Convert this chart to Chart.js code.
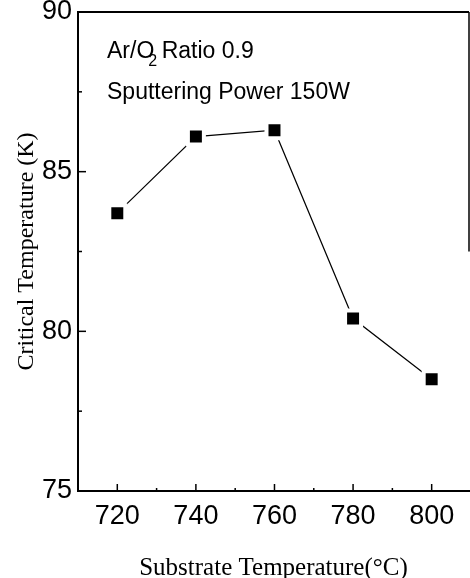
<!DOCTYPE html>
<html><head><meta charset="utf-8">
<script src="https://cdn.jsdelivr.net/npm/chart.js@4/dist/chart.umd.min.js"></script>
<style>html,body{margin:0;padding:0;background:#fff;overflow:hidden}canvas{display:block}</style>
</head><body><canvas id="c" width="470" height="578"></canvas>
<script>
const substrateTemps = [720, 740, 760, 780, 800];
const criticalTemps = [83.7, 86.1, 86.3, 80.4, 78.5];
const xTickValues = [720, 740, 760, 780, 800];
const xMinorTicks = [730, 750, 770, 790];
const yTickValues = [75, 80, 85, 90];
const yMinorTicks = [77.5, 82.5, 87.5];
const xTitle = 'Substrate Temperature(°C)';
const yTitle = 'Critical Temperature (K)';

const sans = '"Liberation Sans", Arial, Helvetica, sans-serif';
const serif = '"Liberation Serif", "Times New Roman", serif';

const framePlugin = {
  id: 'frame',
  afterDraw(chart) {
    const {ctx, chartArea: a, scales: {x, y}} = chart;
    ctx.save();
    ctx.strokeStyle = '#000';
    ctx.lineCap = 'butt';
    ctx.lineWidth = 2;
    ctx.beginPath(); ctx.moveTo(a.left - 1, a.top); ctx.lineTo(a.right, a.top); ctx.stroke();
    ctx.lineWidth = 1.5;
    ctx.beginPath(); ctx.moveTo(a.right, a.top); ctx.lineTo(a.right, y.getPixelForValue(82.5)); ctx.stroke();
    const tick = (x1, y1, x2, y2) => { ctx.beginPath(); ctx.moveTo(x1, y1); ctx.lineTo(x2, y2); ctx.stroke(); };
    ctx.lineWidth = 1.5;
    xTickValues.forEach(v => { const p = x.getPixelForValue(v); tick(p, a.bottom, p, a.bottom - 7); });
    xMinorTicks.forEach(v => { const p = x.getPixelForValue(v); tick(p, a.bottom, p, a.bottom - 3); });
    yTickValues.forEach(v => { const p = y.getPixelForValue(v); tick(a.left, p, a.left + 8, p); });
    yMinorTicks.forEach(v => { const p = y.getPixelForValue(v); tick(a.left, p, a.left + 4, p); });
    ctx.fillStyle = '#000';
    ctx.textBaseline = 'alphabetic';
    ctx.textAlign = 'left';
    ctx.font = '23px ' + sans;
    const tx = a.left + 29;
    const b1 = a.top + 46;
    ctx.fillText('Ar/O', tx, b1);
    const w = ctx.measureText('Ar/O').width;
    ctx.font = '16px ' + sans;
    ctx.fillText('2', tx + w - 6, b1 + 8);
    ctx.font = '23px ' + sans;
    ctx.fillText(' Ratio 0.9', tx + w + 1, b1);
    ctx.fillText('Sputtering Power 150W', tx, a.top + 87);
    ctx.restore();
  }
};

new Chart(document.getElementById('c'), {
  type: 'line',
  data: {
    datasets: [{
      data: substrateTemps.map((t, i) => ({x: t, y: criticalTemps[i]})),
      borderColor: '#000',
      borderWidth: 1.2,
      backgroundColor: '#000',
      pointStyle: 'rect',
      pointRadius: 11.3,
      pointBackgroundColor: '#000',
      pointBorderColor: '#fff',
      pointBorderWidth: 4,
      tension: 0
    }]
  },
  options: {
    responsive: false,
    animation: false,
    events: [],
    layout: {autoPadding: false, padding: {top: 12, right: 1, left: 0, bottom: 0}},
    plugins: {legend: {display: false}, tooltip: {enabled: false}},
    scales: {
      x: {
        type: 'linear',
        min: 710, max: 809.5,
        afterBuildTicks: s => { s.ticks = xTickValues.map(v => ({value: v})); },
        afterFit: s => { s.height = 87; s.paddingLeft = 0; s.paddingRight = 0; },
        grid: {display: false, drawTicks: false},
        border: {display: true, color: '#000', width: 2},
        ticks: {color: '#000', font: {family: sans, size: 27}, padding: 9, maxRotation: 0},
        title: {display: true, text: xTitle, color: '#000', font: {family: serif, size: 25, lineHeight: 0.8}, padding: {top: 0, bottom: 0}}
      },
      y: {
        type: 'linear',
        min: 75, max: 90,
        afterBuildTicks: s => { s.ticks = yTickValues.map(v => ({value: v})); },
        afterFit: s => { s.width = 78; s.paddingTop = 0; s.paddingBottom = 0; },
        grid: {display: false, drawTicks: false},
        border: {display: true, color: '#000', width: 2},
        ticks: {color: '#000', font: {family: sans, size: 27}, padding: 6},
        title: {display: true, text: yTitle, color: '#000', font: {family: serif, size: 24, lineHeight: 1.2}, padding: {top: 12, bottom: 0}}
      }
    }
  },
  plugins: [framePlugin]
});
</script>
</body></html>
